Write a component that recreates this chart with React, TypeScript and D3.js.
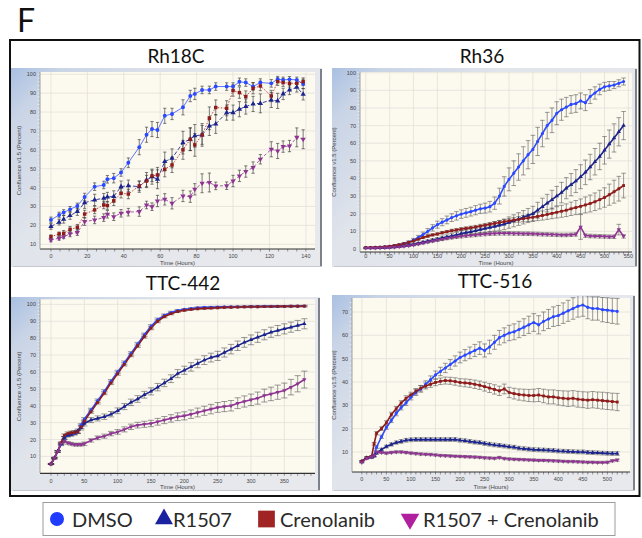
import React, { useEffect, useRef } from "react";
import * as d3 from "d3";

// ---- Rh18C ----
const rh18cTime = [0, 4.5, 7, 10.5, 14.5, 18.5, 24, 29, 31, 34.5, 38.5, 42.5, 48.5, 52.5, 55.5, 58.5, 62.5, 66.5, 72.5, 76.5, 79, 83, 87, 90.5, 96.5, 100, 103.5, 107, 111, 115, 121, 124.5, 127.5, 131, 135, 138.5];
const rh18cDmso = [22.9, 25.5, 26.8, 28.5, 30.3, 35, 40.5, 41.4, 44.4, 45, 48, 53.2, 61.4, 68, 71, 70.5, 78, 79, 82.5, 88.5, 89.6, 91.7, 91.7, 93.5, 93.5, 93.5, 96, 95.6, 93.5, 95.6, 95.2, 97.4, 97, 97.3, 97, 94.9];
const rh18cDmsoErr = [1.5, 1.5, 1.5, 1.5, 1.5, 2, 2, 2, 2, 2.5, 2, 2.5, 4, 4, 4, 4, 4, 3, 4, 3, 3, 2, 2, 2, 2, 2, 2, 2, 2, 2, 2, 1.5, 1.5, 1.5, 1.5, 2.5];
const rh18cR1507 = [19.4, 21.7, 23.2, 25.2, 27.3, 32, 33.5, 34.4, 35, 35.3, 40.5, 41, 40.5, 44, 45.8, 44.4, 53.8, 55.5, 63.8, 65.6, 67.4, 67.9, 72.6, 73.7, 79.7, 79.7, 81.5, 82.9, 84.3, 84.6, 86.4, 85.9, 89.6, 91.7, 93.1, 89.4];
const rh18cR1507Err = [1.5, 1.5, 2, 2, 2, 3, 3, 2.5, 2.5, 3, 3, 3, 3, 4, 4, 5, 5, 5, 6, 6, 6, 6, 5, 5, 4, 4, 4, 4, 4, 5, 4, 4, 3, 2.5, 2.5, 3];
const rh18cCren = [14, 15.5, 15.8, 17.9, 19, 26, 28.2, 30.8, 30.5, 33, 37, 36.6, 40.9, 43.5, 46.2, 46.7, 49.7, 52, 60, 65.6, 62.6, 67.9, 76.7, 82.4, 82, 91.4, 90.3, 88.2, 92.6, 93.8, 88.5, 96.1, 95.6, 95.2, 95.2, 96.1];
const rh18cCrenErr = [1, 1, 1.5, 1.5, 1.5, 2, 2, 2, 2, 2.5, 2.5, 2.5, 2.5, 3, 3, 4, 4, 4, 5, 6, 6, 5, 6, 4, 4, 3, 3, 3, 3, 2.5, 3, 2, 2, 2, 2, 2];
const rh18cCombo = [12.3, 13.2, 14, 15.5, 16.2, 22, 22.9, 24.1, 25.9, 24.6, 26.4, 27, 27.3, 30.8, 29.9, 32.9, 33.8, 31.7, 35.6, 35.2, 39.1, 42.3, 42.7, 40.9, 41, 43.5, 46.2, 48.5, 50.6, 55, 60.3, 59.4, 61.7, 62, 66.6, 65.6];
const rh18cComboErr = [1, 1, 1, 1.5, 1.5, 2, 2, 2, 2, 2, 2, 2, 2.5, 2, 2, 3, 3, 3, 3, 3, 3, 5, 5, 2, 2, 3, 3, 3, 3, 2.5, 4, 4, 3, 3, 5, 5];
const rh18cXTicks = [0, 20, 40, 60, 80, 100, 120, 140];
const rh18cYTicks = [10, 20, 30, 40, 50, 60, 70, 80, 90, 100];

// ---- Rh36 ----
const rh36Time = [0, 10, 20, 30, 40, 50, 60, 70, 80, 90, 100, 110, 120, 130, 140, 150, 160, 170, 180, 190, 200, 210, 220, 230, 240, 250, 260, 270, 280, 290, 300, 310, 320, 330, 340, 350, 360, 370, 380, 390, 400, 410, 420, 430, 440, 450, 460, 470, 480, 490, 500, 510, 520, 530, 540];
const rh36Dmso = [0.8, 0.8, 0.9, 1.0, 1.2, 1.5, 1.9, 2.3, 3.0, 3.8, 5.0, 6.5, 8.2, 10.0, 12.0, 13.8, 15.2, 16.5, 17.8, 18.8, 19.8, 20.5, 21.2, 22.0, 22.8, 23.2, 24.0, 26.0, 30.0, 35.5, 39.5, 43.0, 46.5, 50.0, 53.5, 56.5, 61.0, 65.5, 70.0, 73.0, 77.0, 79.0, 80.5, 82.0, 82.5, 84.0, 83.0, 86.5, 88.5, 90.5, 92.0, 92.5, 93.0, 94.0, 95.0];
const rh36DmsoErr = [0.2, 0.2, 0.2, 0.3, 0.3, 0.3, 0.4, 0.5, 0.6, 0.8, 1.0, 1.2, 1.4, 1.6, 1.8, 2.0, 2.0, 2.2, 2.2, 2.4, 2.4, 2.5, 2.5, 2.6, 2.6, 2.8, 3.0, 3.5, 4.5, 5.5, 6.5, 7.0, 7.5, 8.0, 8.0, 8.0, 8.0, 7.5, 7.5, 7.0, 6.5, 6.0, 5.5, 5.0, 5.0, 4.5, 4.5, 4.0, 3.5, 3.0, 2.5, 2.5, 2.0, 2.0, 2.0];
const rh36R1507 = [0.5, 0.5, 0.6, 0.7, 0.8, 1.0, 1.2, 1.5, 1.8, 2.2, 2.6, 3.2, 3.8, 4.4, 5.0, 5.5, 6.2, 6.8, 7.4, 8.0, 8.8, 9.3, 9.8, 10.4, 11.0, 11.6, 12.2, 12.8, 13.4, 14.0, 15.0, 16.0, 17.0, 18.0, 19.0, 20.0, 22.0, 24.0, 26.0, 28.0, 30.0, 32.0, 34.5, 36.5, 38.5, 41.0, 43.5, 46.5, 49.5, 52.5, 56.0, 59.5, 63.0, 66.5, 70.0];
const rh36R1507Err = [0.2, 0.2, 0.2, 0.2, 0.3, 0.3, 0.3, 0.4, 0.4, 0.5, 0.5, 0.6, 0.7, 0.8, 0.9, 1.0, 1.1, 1.2, 1.3, 1.4, 1.5, 1.6, 1.7, 1.8, 2.0, 2.2, 2.4, 2.6, 2.8, 3.0, 3.2, 3.4, 3.6, 3.8, 4.0, 4.2, 4.5, 4.8, 5.0, 5.3, 5.5, 5.8, 6.0, 6.3, 6.5, 6.8, 7.0, 7.2, 7.5, 7.5, 7.8, 8.0, 8.0, 8.0, 8.0];
const rh36Cren = [0.8, 0.8, 0.9, 1.0, 1.2, 1.5, 1.9, 2.4, 3.0, 3.8, 4.6, 5.6, 6.5, 7.3, 8.0, 8.5, 9.2, 9.8, 10.4, 10.8, 11.3, 11.7, 12.1, 12.5, 13.0, 13.5, 14.0, 14.5, 15.0, 15.5, 16.0, 16.4, 16.8, 17.2, 17.6, 18.0, 18.5, 19.0, 19.6, 20.2, 20.8, 21.4, 22.0, 22.8, 23.5, 24.2, 25.0, 25.8, 26.8, 28.0, 29.2, 30.8, 32.5, 34.2, 36.0];
const rh36CrenErr = [0.2, 0.2, 0.2, 0.2, 0.3, 0.3, 0.3, 0.4, 0.4, 0.5, 0.5, 0.5, 0.6, 0.6, 0.6, 0.7, 0.7, 0.7, 0.8, 0.8, 0.8, 0.9, 0.9, 0.9, 1.0, 1.0, 1.0, 1.1, 1.1, 1.2, 1.2, 1.4, 1.6, 1.8, 2.0, 2.2, 2.4, 2.6, 2.8, 3.0, 3.2, 3.4, 3.6, 3.8, 4.0, 4.2, 4.5, 4.8, 5.0, 5.3, 5.5, 6.0, 6.5, 7.0, 7.0];
const rh36Combo = [0.5, 0.5, 0.5, 0.6, 0.7, 0.8, 1.0, 1.2, 1.5, 1.8, 2.3, 2.8, 3.4, 4.0, 4.6, 5.1, 5.6, 6.1, 6.5, 6.9, 7.2, 7.5, 7.8, 8.0, 8.3, 8.5, 8.7, 8.8, 8.9, 8.9, 8.9, 8.8, 8.8, 8.7, 8.7, 8.6, 8.5, 8.4, 8.3, 8.2, 8.1, 8.0, 8.0, 8.1, 8.3, 12.5, 7.6, 7.4, 7.3, 7.2, 7.1, 7.0, 7.0, 11.0, 7.2];
const rh36ComboErr = [0.2, 0.2, 0.2, 0.2, 0.2, 0.3, 0.3, 0.3, 0.4, 0.4, 0.5, 0.5, 0.6, 0.6, 0.7, 0.7, 0.8, 0.8, 0.8, 0.9, 0.9, 0.9, 1.0, 1.0, 1.0, 1.0, 1.0, 1.0, 1.0, 1.0, 1.0, 1.0, 1.0, 1.0, 1.0, 1.0, 1.0, 1.0, 1.0, 1.0, 1.0, 1.0, 1.0, 1.0, 1.0, 7.0, 1.0, 1.0, 1.0, 1.0, 1.0, 1.0, 1.0, 3.0, 1.0];
const rh36XTicks = [0, 50, 100, 150, 200, 250, 300, 350, 400, 450, 500, 550];
const rh36YTicks = [0, 10, 20, 30, 40, 50, 60, 70, 80, 90, 100];

// ---- TTC-442 ----
const ttc442Time = [0, 5, 10, 15, 20, 25, 30, 35, 40, 45, 50, 60, 70, 80, 90, 100, 110, 120, 130, 140, 150, 160, 170, 180, 190, 200, 210, 220, 230, 240, 250, 260, 270, 280, 290, 300, 310, 320, 330, 340, 350, 360, 370, 380];
const ttc442Dmso = [5.5, 9, 13, 17, 21, 22.5, 23, 23.5, 24.5, 28.5, 32, 37.5, 43, 48.5, 54.5, 60, 65.5, 71, 76.5, 82, 87, 91, 93.5, 95.2, 96.3, 97, 97.5, 98, 98.2, 98.3, 98.4, 98.5, 98.5, 98.6, 98.6, 98.7, 98.7, 98.8, 98.8, 98.8, 98.9, 98.9, 99, 99];
const ttc442DmsoErr = [0.3, 0.4, 0.5, 0.6, 0.8, 0.8, 0.8, 0.8, 0.8, 0.9, 1.0, 1.0, 1.0, 1.0, 1.0, 1.0, 1.0, 1.0, 1.0, 1.0, 1.0, 0.9, 0.8, 0.7, 0.6, 0.5, 0.5, 0.5, 0.5, 0.5, 0.5, 0.4, 0.4, 0.4, 0.4, 0.4, 0.4, 0.4, 0.4, 0.4, 0.4, 0.4, 0.4, 0.4];
const ttc442R1507 = [5.5, 9, 13, 17.5, 21, 22.5, 23, 24, 25, 27, 29.5, 31.5, 32.5, 33.5, 35, 37, 39.5, 42, 44, 46.5, 48.5, 51, 53.5, 56, 59, 61, 63, 65, 67, 68.5, 69.5, 71.5, 73.5, 75.5, 77.5, 79, 80.5, 82, 83.5, 84.5, 85.5, 86.5, 87.5, 88.5];
const ttc442R1507Err = [0.3, 0.4, 0.5, 0.6, 0.8, 1.0, 1.0, 1.2, 1.2, 1.4, 1.5, 1.5, 1.5, 1.6, 1.6, 1.7, 1.8, 1.9, 2.0, 2.0, 2.1, 2.2, 2.2, 2.3, 2.4, 2.4, 2.5, 2.5, 2.6, 2.6, 2.7, 2.7, 2.8, 2.8, 2.9, 2.9, 3.0, 3.0, 3.0, 3.0, 3.0, 3.0, 3.0, 3.0];
const ttc442Cren = [5.5, 9, 13, 18, 22.5, 23.5, 24, 24, 24.5, 27.5, 31, 36.5, 42, 47.5, 53.5, 59, 64.5, 70, 75.5, 81, 86, 90, 92.8, 94.5, 95.8, 96.5, 97, 97.4, 97.6, 97.8, 98, 98.2, 98.3, 98.4, 98.5, 98.6, 98.6, 98.7, 98.7, 98.8, 98.8, 98.9, 98.9, 99];
const ttc442CrenErr = [0.3, 0.4, 0.5, 0.6, 0.8, 1.0, 1.0, 1.0, 1.0, 1.0, 1.0, 1.0, 1.0, 1.0, 1.0, 1.0, 1.0, 1.0, 1.0, 1.0, 1.0, 0.9, 0.8, 0.7, 0.6, 0.5, 0.5, 0.5, 0.5, 0.5, 0.5, 0.5, 0.5, 0.5, 0.5, 0.5, 0.5, 0.5, 0.5, 0.5, 0.5, 0.5, 0.5, 0.5];
const ttc442Combo = [5.5, 9, 13, 17.5, 19, 18, 17.5, 17, 17, 17, 17.5, 19.5, 21, 22, 23.5, 24.5, 26, 27.5, 28.5, 29, 29.5, 30.5, 31.5, 32.5, 33.5, 34, 35, 36, 37, 38, 39, 39.5, 40, 41.5, 42.5, 43.5, 44.5, 46, 47, 48, 49, 51, 53, 55.5];
const ttc442ComboErr = [0.3, 0.4, 0.5, 0.6, 0.8, 0.8, 0.8, 0.8, 0.8, 0.8, 1.0, 1.0, 1.1, 1.2, 1.3, 1.4, 1.5, 1.6, 1.7, 1.8, 1.9, 2.0, 2.1, 2.2, 2.3, 2.4, 2.5, 2.6, 2.7, 2.8, 2.9, 3.0, 3.1, 3.2, 3.3, 3.4, 3.6, 3.8, 4.0, 4.2, 4.4, 4.6, 4.8, 5.0];
const ttc442XTicks = [0, 50, 100, 150, 200, 250, 300, 350];
const ttc442YTicks = [10, 20, 30, 40, 50, 60, 70, 80, 90, 100];

// ---- TTC-516 ----
const ttc516Time = [0, 10, 20, 25, 30, 40, 50, 60, 70, 80, 90, 100, 110, 120, 130, 140, 150, 160, 170, 180, 190, 200, 210, 220, 230, 240, 250, 260, 270, 280, 290, 300, 310, 320, 330, 340, 350, 360, 370, 380, 390, 400, 410, 420, 430, 440, 450, 460, 470, 480, 490, 500, 510, 520];
const ttc516Dmso = [6, 7.5, 7.8, 8.5, 12, 16.5, 20.5, 23.5, 26.5, 29, 31, 33.5, 35.5, 37, 39, 41, 43, 44.5, 46, 47.5, 49, 50.5, 51.5, 52.5, 53.5, 54.5, 53.5, 55, 57, 59, 60, 61, 61.5, 62.5, 63.5, 64.5, 65.5, 64.5, 66, 67, 68, 68.5, 69.5, 70.5, 71.5, 72.5, 73, 72, 71.5, 71.5, 71, 70.8, 70.5, 70.3];
const ttc516DmsoErr = [0.3, 0.4, 0.4, 0.5, 0.6, 0.7, 0.8, 0.9, 1.0, 1.0, 1.1, 1.2, 1.3, 1.4, 1.5, 1.6, 1.7, 1.8, 2.0, 2.1, 2.2, 2.3, 2.4, 2.5, 2.6, 2.7, 2.8, 2.9, 3.0, 3.1, 3.2, 3.3, 3.4, 3.5, 3.6, 3.7, 3.8, 3.9, 4.0, 4.1, 4.2, 4.3, 4.4, 4.5, 4.6, 4.7, 4.8, 4.9, 5.0, 5.0, 5.2, 5.3, 5.4, 5.5];
const ttc516R1507 = [6, 7.5, 7.8, 8.3, 9.5, 11, 12.3, 13.2, 14, 14.5, 15, 15.2, 15.3, 15.3, 15.3, 15.3, 15.3, 15.3, 15.3, 15.3, 15.3, 15, 14.8, 14.5, 14.2, 14, 13.6, 13.3, 13, 12.8, 12.5, 12.2, 12, 11.6, 11.4, 11.2, 11, 10.9, 10.8, 10.7, 10.6, 10.4, 10.3, 10.2, 10.1, 10, 10, 9.8, 9.7, 9.6, 9.5, 9.4, 9.3, 9.3];
const ttc516R1507Err = [0.3, 0.3, 0.3, 0.4, 0.5, 0.6, 0.6, 0.7, 0.7, 0.8, 0.8, 0.8, 0.8, 0.8, 0.8, 0.8, 0.8, 0.8, 0.8, 0.8, 0.8, 0.8, 0.8, 0.8, 0.8, 0.8, 0.8, 0.8, 0.8, 0.8, 0.8, 0.8, 0.8, 0.8, 0.8, 0.8, 0.8, 0.8, 0.8, 0.8, 0.8, 0.8, 0.8, 0.8, 0.8, 0.8, 0.8, 0.8, 0.8, 0.8, 0.8, 0.8, 0.8, 0.8];
const ttc516Cren = [6, 7.5, 8, 13.5, 18, 20, 22.5, 26, 28.5, 31, 33, 34.5, 36, 37.3, 38.3, 39, 39.8, 40.3, 40.6, 40.5, 40.2, 39.8, 39.6, 39.4, 39, 38.6, 38, 37.4, 36.8, 36.2, 37, 35.5, 35, 34.6, 34.4, 34.2, 34.2, 34.4, 34, 33.6, 33.6, 33.2, 33, 32.8, 33, 32.6, 32.4, 32.2, 32.4, 32.2, 32, 31.8, 31.6, 31.4];
const ttc516CrenErr = [0.3, 0.4, 0.4, 0.6, 0.7, 0.8, 0.9, 1.0, 1.0, 1.0, 1.1, 1.1, 1.2, 1.2, 1.3, 1.3, 1.4, 1.4, 1.5, 1.5, 1.6, 1.6, 1.7, 1.7, 1.8, 1.8, 1.9, 1.9, 2.0, 2.0, 2.1, 2.2, 2.3, 2.4, 2.5, 2.6, 2.7, 2.8, 2.9, 3.0, 3.0, 3.1, 3.2, 3.3, 3.3, 3.4, 3.4, 3.5, 3.5, 3.5, 3.6, 3.6, 3.6, 3.7];
const ttc516Combo = [5.5, 7.3, 7.8, 8.5, 10, 9.8, 9.5, 9.8, 10, 10, 9.8, 9.5, 9.3, 9.1, 9, 8.9, 8.7, 8.5, 8.4, 8.3, 8.2, 8.1, 8, 7.9, 7.8, 7.7, 7.5, 7.4, 7.3, 7.6, 7.2, 7, 6.9, 6.8, 6.7, 6.6, 6.5, 6.4, 6.4, 6.3, 6.2, 6.1, 6, 5.9, 5.9, 5.8, 5.7, 5.6, 5.6, 5.5, 5.5, 5.6, 6.2, 6.5];
const ttc516ComboErr = [0.3, 0.4, 0.4, 0.5, 0.5, 0.5, 0.5, 0.5, 0.5, 0.5, 0.5, 0.5, 0.5, 0.5, 0.5, 0.5, 0.5, 0.5, 0.5, 0.5, 0.5, 0.5, 0.5, 0.5, 0.5, 0.5, 0.5, 0.5, 0.5, 0.5, 0.5, 0.5, 0.5, 0.5, 0.5, 0.5, 0.5, 0.5, 0.5, 0.5, 0.5, 0.5, 0.5, 0.5, 0.5, 0.5, 0.5, 0.5, 0.5, 0.5, 0.5, 0.5, 0.5, 0.5];
const ttc516XTicks = [0, 50, 100, 150, 200, 250, 300, 350, 400, 450, 500];
const ttc516YTicks = [10, 20, 30, 40, 50, 60, 70];

const legendNames = ["DMSO", "R1507", "Crenolanib", "R1507 + Crenolanib"];

const styles: Record<string, any> = {
  DMSO: { color: "#2b49ff", line: "#4a66ff", symbol: d3.symbolCircle, dash: null, legend: "#1f3cff" },
  R1507: { color: "#1c248c", line: "#242c94", symbol: d3.symbolTriangle, dash: "4,2", legend: "#1a22a0" },
  Crenolanib: { color: "#8e1c1c", line: "#b03030", symbol: d3.symbolSquare, dash: "1.5,1.5", legend: "#a02424" },
  "R1507 + Crenolanib": { color: "#8e3592", line: "#9a4aa0", symbol: d3.symbolTriangle, dash: "3,2", legend: "#b0209e", flip: true },
};

const panels = [
  {
    title: "Rh18C", titleX: 176, titleY: 63,
    frame: [11, 68, 311, 199], plot: [40, 72, 315, 249],
    xDomain: [-6, 145], yDomain: [7.5, 101.2], xMinor: 5, yMinor: 2,
    xTicks: rh18cXTicks, yTicks: rh18cYTicks, xLabelY: 258, xTitleY: 264.5, yTitleX: 21,
    dense: false, cap: 1.6, time: rh18cTime,
    series: [[rh18cDmso, rh18cDmsoErr], [rh18cR1507, rh18cR1507Err], [rh18cCren, rh18cCrenErr], [rh18cCombo, rh18cComboErr]],
  },
  {
    title: "Rh36", titleX: 482, titleY: 63,
    frame: [332, 68, 305, 199], plot: [360, 72, 632, 252],
    xDomain: [-12, 557.6], yDomain: [-1.7, 100.4], xMinor: 10, yMinor: 2,
    xTicks: rh36XTicks, yTicks: rh36YTicks, xLabelY: 257.5, xTitleY: 264.5, yTitleX: 336,
    dense: true, cap: 2.3, time: rh36Time,
    series: [[rh36Dmso, rh36DmsoErr], [rh36R1507, rh36R1507Err], [rh36Cren, rh36CrenErr], [rh36Combo, rh36ComboErr]],
  },
  {
    title: "TTC-442", titleX: 183, titleY: 290,
    frame: [11, 297, 309, 194], plot: [40, 299.3, 315, 473.3],
    xDomain: [-16.5, 396], yDomain: [0, 103], xMinor: 10, yMinor: 2,
    xTicks: ttc442XTicks, yTicks: ttc442YTicks, xLabelY: 482.5, xTitleY: 489, yTitleX: 21,
    dense: true, cap: 3.1, time: ttc442Time,
    series: [[ttc442Dmso, ttc442DmsoErr], [ttc442R1507, ttc442R1507Err], [ttc442Cren, ttc442CrenErr], [ttc442Combo, ttc442ComboErr]],
  },
  {
    title: "TTC-516", titleX: 495, titleY: 288,
    frame: [332, 295, 303, 196], plot: [352, 298, 630, 472],
    xDomain: [-20, 546], yDomain: [1.4, 76], xMinor: 10, yMinor: 2,
    xTicks: ttc516XTicks, yTicks: ttc516YTicks, xLabelY: 480.5, xTitleY: 489, yTitleX: 336,
    dense: true, cap: 2.4, time: ttc516Time,
    series: [[ttc516Dmso, ttc516DmsoErr], [ttc516R1507, ttc516R1507Err], [ttc516Cren, ttc516CrenErr], [ttc516Combo, ttc516ComboErr]],
  },
];

const App = () => {
  const svgRef = useRef(null);

  useEffect(() => {
    const svg = d3.select(svgRef.current);
    svg.selectAll("*").remove();

    const defs = svg.append("defs");
    const grad = defs.append("linearGradient").attr("id", "frameGrad")
      .attr("x1", 0).attr("y1", 0).attr("x2", 1).attr("y2", 0.6);
    grad.append("stop").attr("offset", "0%").attr("stop-color", "#a9c0e2");
    grad.append("stop").attr("offset", "12%").attr("stop-color", "#c9d4e6");
    grad.append("stop").attr("offset", "40%").attr("stop-color", "#e0e4eb");
    grad.append("stop").attr("offset", "100%").attr("stop-color", "#e8e9ed");

    svg.append("rect").attr("width", 642).attr("height", 538).attr("fill", "#ffffff");

    svg.append("text").attr("x", 17).attr("y", 32).attr("font-family", "Lato")
      .attr("font-size", 32).attr("fill", "#111").text("F");

    svg.append("rect").attr("x", 10).attr("y", 40).attr("width", 629.5).attr("height", 456)
      .attr("fill", "none").attr("stroke", "#111").attr("stroke-width", 2);

    panels.forEach((p, pi) => {
      const g = svg.append("g");
      const [fx, fy, fw, fh] = p.frame;
      const [px0, py0, px1, py1] = p.plot;

      g.append("text").attr("x", p.titleX).attr("y", p.titleY).attr("text-anchor", "middle")
        .attr("font-family", "Lato").attr("font-size", 19).attr("fill", "#111").text(p.title);

      g.append("rect").attr("x", fx).attr("y", fy).attr("width", fw).attr("height", fh)
        .attr("fill", "url(#frameGrad)");
      g.append("line").attr("x1", fx + fw - 1).attr("x2", fx + fw - 1).attr("y1", fy + 1).attr("y2", fy + fh)
        .attr("stroke", "#7d828a").attr("stroke-width", 2);
      g.append("line").attr("x1", fx + 2).attr("x2", fx + fw).attr("y1", fy + fh - 0.5).attr("y2", fy + fh - 0.5)
        .attr("stroke", "#c4c8ce").attr("stroke-width", 1);

      g.append("rect").attr("x", px0).attr("y", py0).attr("width", px1 - px0).attr("height", py1 - py0)
        .attr("fill", "#fcf9ef");

      const x = d3.scaleLinear().domain(p.xDomain).range([px0, px1]);
      const y = d3.scaleLinear().domain(p.yDomain).range([py1, py0]);

      // grid
      g.append("g").selectAll("line").data(p.xTicks).join("line")
        .attr("x1", (d) => x(d)).attr("x2", (d) => x(d)).attr("y1", py0).attr("y2", py1)
        .attr("stroke", "#e3e1da").attr("stroke-width", 0.8);
      g.append("g").selectAll("line").data(p.yTicks).join("line")
        .attr("x1", px0).attr("x2", px1).attr("y1", (d) => y(d)).attr("y2", (d) => y(d))
        .attr("stroke", "#e3e1da").attr("stroke-width", 0.8);

      // minor ticks
      const xm = d3.range(0, p.xDomain[1], p.xMinor);
      g.append("g").selectAll("line").data(xm).join("line")
        .attr("x1", (d) => x(d)).attr("x2", (d) => x(d)).attr("y1", py1).attr("y2", py1 + 2.5)
        .attr("stroke", "#555").attr("stroke-width", 0.6);
      const ym = d3.range(Math.ceil(p.yDomain[0] / p.yMinor) * p.yMinor, p.yDomain[1], p.yMinor);
      g.append("g").selectAll("line").data(ym).join("line")
        .attr("x1", px0 - 2.5).attr("x2", px0).attr("y1", (d) => y(d)).attr("y2", (d) => y(d))
        .attr("stroke", "#f4f4f4").attr("stroke-width", 0.7);

      // axes
      g.append("line").attr("x1", px0).attr("x2", px1).attr("y1", py1).attr("y2", py1)
        .attr("stroke", "#333").attr("stroke-width", 1.2);
      g.append("line").attr("x1", px0).attr("x2", px0).attr("y1", py0).attr("y2", py1)
        .attr("stroke", "#8a8a8a").attr("stroke-width", 0.8);

      g.append("g").selectAll("text").data(p.xTicks).join("text")
        .attr("x", (d) => x(d)).attr("y", p.xLabelY).attr("text-anchor", "middle")
        .attr("font-family", "Liberation Sans").attr("font-size", 5.5).attr("fill", "#444")
        .text((d) => d);
      g.append("g").selectAll("text").data(p.yTicks).join("text")
        .attr("x", px0 - 4).attr("y", (d) => y(d) + 2).attr("text-anchor", "end")
        .attr("font-family", "Liberation Sans").attr("font-size", 5.5).attr("fill", "#444")
        .text((d) => d);

      g.append("text").attr("x", (px0 + px1) / 2).attr("y", p.xTitleY).attr("text-anchor", "middle")
        .attr("font-family", "Liberation Sans").attr("font-size", 6).attr("fill", "#444").text("Time (Hours)");
      g.append("text").attr("transform", `translate(${p.yTitleX},${(py0 + py1) / 2}) rotate(-90)`)
        .attr("text-anchor", "middle").attr("font-family", "Liberation Sans").attr("font-size", 6)
        .attr("fill", "#444").text("Confluence v1.5 (Percent)");

      // data
      const clipId = `clip-${pi}`;
      defs.append("clipPath").attr("id", clipId).append("rect")
        .attr("x", px0).attr("y", py0 - 2).attr("width", px1 - px0).attr("height", py1 - py0 + 2);
      const dg = g.append("g").attr("clip-path", `url(#${clipId})`);

      const rows = p.series.map(([vals, errs], si) =>
        p.time.map((t, i) => ({ t, v: vals[i], e: errs[i], name: legendNames[si] }))
      );
      const cap = p.cap;

      rows.forEach((row) => {
        const eb = dg.append("g").attr("stroke", p.dense ? "#262626" : "#333")
          .attr("stroke-width", p.dense ? 0.6 : 0.7).attr("opacity", p.dense ? 0.75 : 0.9);
        eb.selectAll("line.v").data(row).join("line").attr("class", "v")
          .attr("x1", (d) => x(d.t)).attr("x2", (d) => x(d.t))
          .attr("y1", (d) => y(d.v - d.e)).attr("y2", (d) => y(d.v + d.e));
        eb.selectAll("line.top").data(row).join("line").attr("class", "top")
          .attr("x1", (d) => x(d.t) - cap).attr("x2", (d) => x(d.t) + cap)
          .attr("y1", (d) => y(d.v + d.e)).attr("y2", (d) => y(d.v + d.e));
        eb.selectAll("line.bot").data(row).join("line").attr("class", "bot")
          .attr("x1", (d) => x(d.t) - cap).attr("x2", (d) => x(d.t) + cap)
          .attr("y1", (d) => y(d.v - d.e)).attr("y2", (d) => y(d.v - d.e));
      });

      const line = d3.line<any>().x((d) => x(d.t)).y((d) => y(d.v));
      rows.forEach((row) => {
        const st = styles[row[0].name];
        dg.append("path").datum(row).attr("d", line).attr("fill", "none")
          .attr("stroke", p.dense ? st.color : st.line)
          .attr("stroke-width", p.dense ? 1.6 : 0.9)
          .attr("stroke-dasharray", p.dense ? null : st.dash);
      });
      rows.forEach((row) => {
        const st = styles[row[0].name];
        const sym = d3.symbol().type(st.symbol).size(p.dense ? 8 : 12)();
        dg.append("g").selectAll("path").data(row).join("path")
          .attr("d", sym)
          .attr("transform", (d) => `translate(${x(d.t)},${y(d.v)})${st.flip ? " rotate(180)" : ""}`)
          .attr("fill", st.color);
      });
    });

    // legend
    const lg = svg.append("g");
    lg.append("rect").attr("x", 43).attr("y", 502.5).attr("width", 572).attr("height", 33)
      .attr("fill", "#fff").attr("stroke", "#9c9c9c").attr("stroke-width", 1);
    const legendItems = [
      { name: "DMSO", sx: 57, tx: 72, size: 154 },
      { name: "R1507", sx: 164, tx: 173, size: 140 },
      { name: "Crenolanib", sx: 266.5, tx: 280, size: 280 },
      { name: "R1507 + Crenolanib", sx: 410, tx: 423, size: 150 },
    ];
    legendItems.forEach((it) => {
      const st = styles[it.name];
      lg.append("path").attr("d", d3.symbol().type(st.symbol).size(it.size)())
        .attr("transform", `translate(${it.sx},519)${st.flip ? " rotate(180)" : ""}`)
        .attr("fill", st.legend);
      lg.append("text").attr("x", it.tx).attr("y", 527).attr("font-family", "Lato")
        .attr("font-size", 20).attr("fill", "#2a2a2a").text(it.name);
    });
  }, []);

  return (
    <div style={{ position: "absolute", left: 0, top: 0 }}>
      <svg ref={svgRef} width={642} height={538}></svg>
    </div>
  );
};

export default App;
